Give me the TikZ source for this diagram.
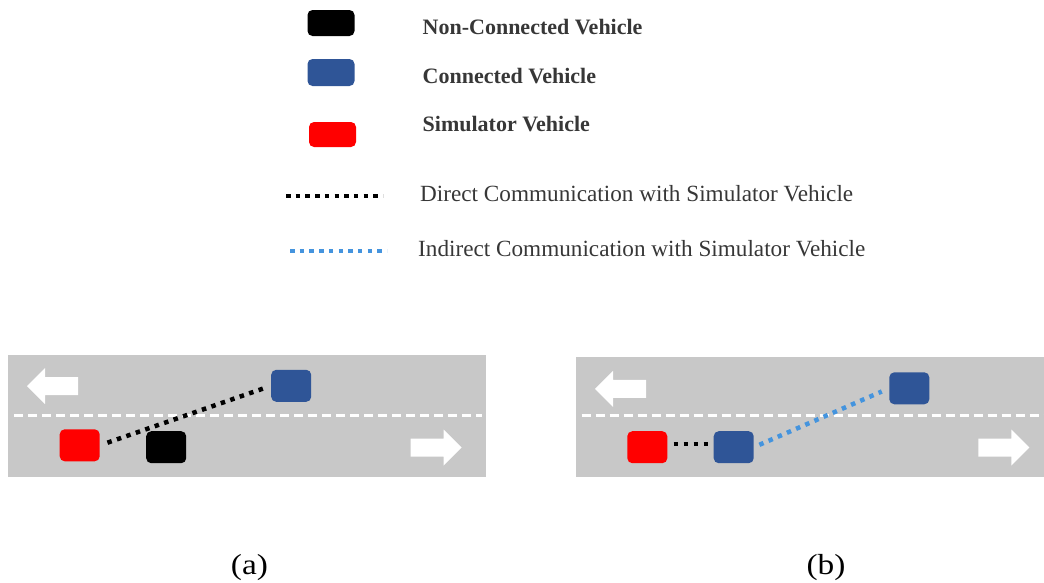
\documentclass[tikz,border=0pt]{standalone}
\usepackage{fontspec}
\setmainfont{Liberation Serif}
\definecolor{road}{RGB}{200,200,200}
\definecolor{cvblue}{RGB}{47,85,151}
\definecolor{simred}{RGB}{255,0,0}
\definecolor{dotblue}{RGB}{68,148,222}
\definecolor{txt}{RGB}{55,55,55}
\begin{document}
\begin{tikzpicture}[x=1pt,y=-1pt,
  car/.style={rounded corners=5pt, minimum width=40pt, minimum height=32pt, inner sep=0pt, draw=none},
  lcar/.style={car, minimum width=47pt, minimum height=26pt},
  lbl/.style={anchor=base west, inner sep=0pt, text=txt, font=\fontsize{22}{26}\selectfont\bfseries},
  rlbl/.style={anchor=base west, inner sep=0pt, text=txt, font=\fontsize{23.2}{27}\selectfont},
  captxt/.style={anchor=base, inner sep=0pt, xscale=1.15, font=\fontsize{29}{33}\selectfont},
  lane/.style={white, line width=2.5pt, dash pattern=on 9pt off 5pt},
  comm/.style={line width=4.5pt, dash pattern=on 4.5pt off 5.5pt},
  lcomm/.style={line width=4pt, dash pattern=on 4.5pt off 5.2pt},
  larrow/.pic={\fill[white] (0,0) -- (18,-18) -- (18,-9) -- (51,-9) -- (51,9) -- (18,9) -- (18,18) -- cycle;},
  rarrow/.pic={\fill[white] (0,0) -- (-18,-18) -- (-18,-9) -- (-51,-9) -- (-51,9) -- (-18,9) -- (-18,18) -- cycle;}
]
\useasboundingbox (0,0) rectangle (1044,582);
\clip (0,0) rectangle (1044,582);

% ---------- legend ----------
\node[lcar, fill=black]  (lnc) at (331,23) {};
\node[lcar, fill=cvblue, minimum height=27pt] (lcv) at (331,72.5) {};
\node[lcar, fill=simred, minimum height=25pt] (lsv) at (332.5,134.5) {};
\node[lbl] (tnc) at (422.5,34.3) {Non-Connected Vehicle};
\node[lbl] (tcv) at (422.5,83.3) {Connected Vehicle};
\node[lbl] (tsv) at (422.5,131.7) {Simulator Vehicle};
\coordinate (d1) at (286,195.7);
\coordinate (d2) at (383,195.7);
\coordinate (i1) at (290,251);
\coordinate (i2) at (387,251);
\draw[lcomm, black] (d1) -- (d2);
\draw[lcomm, dotblue] (i1) -- (i2);
\node[rlbl] (tdc) at (420,201) {Direct Communication with Simulator Vehicle};
\node[rlbl] (tic) at (418,256.7) {Indirect Communication with Simulator Vehicle};

% ---------- panel (a) ----------
\fill[road] (8.3,355) rectangle (486,476.7);
\draw[lane] (14,415.7) -- (482,415.7);
\pic at (27,386) {larrow};
\pic at (461.7,447.5) {rarrow};
\node[car, fill=simred] (ra) at (79.7,445.3) {};
\node[car, fill=black]  (na) at (166.2,447.2) {};
\node[car, fill=cvblue] (ba) at (291.2,385.8) {};
\draw[comm, black, shorten <=8pt, shorten >=8pt] (ra.east) -- (ba.west);
\node[captxt] (capa) at (249.5,574) {(a)};

% ---------- panel (b) ----------
\fill[road] (576,356.7) rectangle (1044,477.3);
\draw[lane] (581.7,415.7) -- (1044,415.7);
\pic at (595,388.8) {larrow};
\pic at (1029.3,447.5) {rarrow};
\node[car, fill=simred] (rb) at (647.3,447.2) {};
\node[car, fill=cvblue] (cb1) at (733.7,447.2) {};
\node[car, fill=cvblue] (cb2) at (909.3,388.3) {};
\draw[comm, black, shorten <=6pt, shorten >=6pt] ([yshift=3pt]rb.east) -- ([yshift=3pt]cb1.west);
\draw[comm, dotblue, shorten <=6pt, shorten >=8pt] (cb1.east) -- (cb2.west);
\node[captxt] (capb) at (826,574) {(b)};
\end{tikzpicture}
\end{document}
